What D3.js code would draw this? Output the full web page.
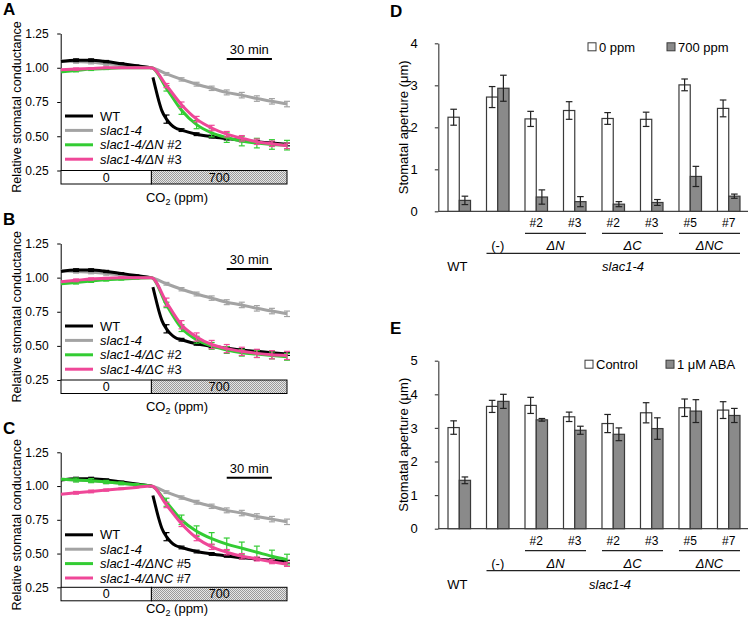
<!DOCTYPE html>
<html><head><meta charset="utf-8">
<script src="https://cdn.jsdelivr.net/npm/d3@7"></script>
<style>
body{margin:0;background:#fff}
text{font-family:"Liberation Sans",Arial,sans-serif;fill:#000}
</style>
</head><body>
<svg id="chart" width="750" height="622"></svg>
<script>
// ---------------- DATA ----------------
// Panels A-C: relative stomatal conductance, time in minutes relative to CO2 switch
const timeMin = [-60,-50,-40,-30,-20,-10,0,10,20,30,40,50,60,70,80,90];
const slac14 = [1.05,1.045,1.04,1.03,1.02,1.01,1.00,0.955,0.915,0.88,0.85,0.82,0.80,0.775,0.755,0.735];
const slac14Err = [0,0.012,0.012,0.012,0.01,0.008,0,0.01,0.012,0.014,0.016,0.018,0.02,0.02,0.02,0.02];
const wtPreT = [-60,-50,-40,-30,-20,-10,0];
const wtPre = [1.045,1.055,1.055,1.045,1.03,1.015,1.00];
const wtPreErr = [0,0.01,0.01,0.008,0.006,0.004,0];
const wtPostT = [1,3,5,7,10,13,16,20,30,40,50,60,70,80,90];
const wtPost = [0.93,0.84,0.755,0.685,0.625,0.585,0.56,0.545,0.515,0.497,0.483,0.47,0.46,0.45,0.44];
const wtPostErr = [0,0,0,0,0.03,0,0,0.01,0.01,0.01,0.01,0.01,0.01,0.01,0.01];
const dN2 = [0.97,0.98,0.99,0.995,1.0,1.0,1.0,0.85,0.69,0.585,0.525,0.49,0.465,0.45,0.44,0.435];
const dN2Err = [0,0.01,0.01,0.008,0.005,0.003,0,0.02,0.03,0.03,0.03,0.035,0.035,0.035,0.035,0.035];
const dN3 = [0.985,0.99,0.995,1.0,1.0,1.0,1.0,0.87,0.73,0.625,0.56,0.515,0.485,0.46,0.445,0.43];
const dN3Err = [0,0.008,0.006,0.005,0.004,0.003,0,0.015,0.02,0.02,0.02,0.02,0.02,0.02,0.02,0.02];
const dC2 = [0.955,0.965,0.975,0.985,0.99,0.995,1.0,0.80,0.63,0.545,0.50,0.47,0.45,0.44,0.43,0.42];
const dC2Err = [0,0.012,0.01,0.01,0.008,0.005,0,0.02,0.025,0.025,0.025,0.025,0.025,0.025,0.025,0.025];
const dC3 = [0.97,0.98,0.99,0.995,1.0,1.0,1.0,0.82,0.655,0.565,0.51,0.48,0.46,0.445,0.435,0.43];
const dC3Err = [0,0.01,0.008,0.006,0.005,0.003,0,0.03,0.03,0.03,0.03,0.03,0.03,0.03,0.03,0.03];
const dNC5 = [1.05,1.045,1.04,1.03,1.02,1.01,1.0,0.88,0.75,0.665,0.61,0.57,0.54,0.51,0.48,0.455];
const dNC5Err = [0,0.015,0.015,0.012,0.01,0.008,0,0.03,0.035,0.04,0.045,0.045,0.045,0.045,0.045,0.04];
const dNC7 = [0.94,0.95,0.96,0.97,0.98,0.99,1.0,0.86,0.72,0.615,0.55,0.51,0.48,0.46,0.44,0.42];
const dNC7Err = [0,0.01,0.01,0.008,0.006,0.004,0,0.02,0.02,0.02,0.02,0.02,0.02,0.015,0.015,0.015];
const condTicks = [0.25,0.50,0.75,1.00,1.25];
const co2Phases = [{label:"0", from:-60, to:0},{label:"700", from:0, to:90}];
const scaleBarMin = [50,80];

// Panels D-E: stomatal aperture (µm)
const genotypes = ["WT","(-)","ΔN #2","ΔN #3","ΔC #2","ΔC #3","ΔNC #5","ΔNC #7"];
const lineNums = ["","","#2","#3","#2","#3","#5","#7"];
const ppm0 = [2.24,2.72,2.20,2.40,2.21,2.19,3.01,2.45];
const ppm0Err = [0.19,0.25,0.18,0.21,0.14,0.17,0.14,0.20];
const ppm700 = [0.26,2.93,0.34,0.23,0.17,0.21,0.83,0.36];
const ppm700Err = [0.10,0.31,0.17,0.12,0.06,0.07,0.24,0.05];
const ctrl = [3.01,3.64,3.67,3.33,3.13,3.45,3.60,3.53];
const ctrlErr = [0.20,0.18,0.24,0.14,0.27,0.30,0.26,0.25];
const aba = [1.44,3.79,3.24,2.93,2.81,2.98,3.50,3.37];
const abaErr = [0.10,0.21,0.04,0.12,0.19,0.32,0.34,0.21];
const dTicks = [0,1,2,3,4];
const eTicks = [0,1,2,3,4,5];

// ---------------- STYLE ----------------
const C_BLACK = "#000", C_GRAY = "#a3a3a3", C_GREEN = "#33cc33", C_PINK = "#ef4798";
const BAR_GRAY = "#8a8a8a", BAR_STROKE = "#3a3a3a";

const svg = d3.select("#chart");
const defs = svg.append("defs");
const pat = defs.append("pattern").attr("id","stip").attr("width",2).attr("height",2).attr("patternUnits","userSpaceOnUse");
pat.append("rect").attr("width",2).attr("height",2).attr("fill","#e6e6e6");
pat.append("rect").attr("width",1).attr("height",1).attr("fill","#9a9a9a");
pat.append("rect").attr("x",1).attr("y",1).attr("width",1).attr("height",1).attr("fill","#9a9a9a");

// ---------------- TIME PANELS ----------------
const x = d3.scaleLinear().domain([-60,90]).range([61,287]);
const panelTop = [33.5, 243.5, 452.3];
const panelBot = [170.5, 380, 587.3];
const co2LabelDy = [31.5, 30.5, 26];

function drawSeries(g, y, t, v, e, color) {
  const eb = g.append("g");
  t.forEach((tt,i)=>{
    if (!e[i]) return;
    const xx = x(tt);
    eb.append("line").attr("x1",xx).attr("x2",xx).attr("y1",y(v[i]-e[i])).attr("y2",y(v[i]+e[i])).attr("stroke",color).attr("stroke-width",1.2);
    [v[i]-e[i], v[i]+e[i]].forEach(val=>{
      eb.append("line").attr("x1",xx-3).attr("x2",xx+3).attr("y1",y(val)).attr("y2",y(val)).attr("stroke",color).attr("stroke-width",1.2);
    });
  });
  const ln = d3.line().x((d,i)=>x(t[i])).y(d=>y(d)).curve(d3.curveMonotoneX);
  g.append("path").datum(v).attr("d",ln).attr("fill","none").attr("stroke",color).attr("stroke-width",3).attr("stroke-linejoin","round");
}

function timePanel(idx, letter, s1, s1e, s2, s2e, lab1, lab2) {
  const top = panelTop[idx], bot = panelBot[idx];
  const y = d3.scaleLinear().domain([0.25,1.25]).range([bot, top]);
  const g = svg.append("g");

  g.append("text").attr("x",3).attr("y",top-18.5).attr("font-size",17).attr("font-weight","bold").text(letter);

  const ax = g.append("g").attr("transform","translate(60.7,0)")
    .call(d3.axisLeft(y).tickValues(condTicks).tickFormat(d3.format(".2f")).tickSizeInner(3.5).tickSizeOuter(0).tickPadding(8.5));
  ax.selectAll("text").attr("font-size",12).attr("font-family","Liberation Sans, Arial, sans-serif").attr("fill","#000");
  ax.selectAll("line,path").attr("stroke","#000");

  g.append("text").attr("transform",`translate(21,${(top+bot)/2+5}) rotate(-90)`).attr("text-anchor","middle").attr("font-size",12.6).text("Relative stomatal conductance");

  // CO2 bar
  co2Phases.forEach((p,i)=>{
    g.append("rect").attr("x",x(p.from)).attr("y",bot).attr("width",x(p.to)-x(p.from)).attr("height",13.5)
      .attr("fill", i===0 ? "#fff" : "url(#stip)").attr("stroke","#000").attr("stroke-width",1);
    g.append("text").attr("x",(x(p.from)+x(p.to))/2).attr("y",bot+11).attr("text-anchor","middle").attr("font-size",12.5).text(p.label);
  });
  const co2 = g.append("text").attr("x",177).attr("y",bot+co2LabelDy[idx]).attr("text-anchor","middle").attr("font-size",13);
  co2.append("tspan").text("CO");
  co2.append("tspan").attr("font-size",9).attr("dy",3).text("2");
  co2.append("tspan").attr("dy",-3).text(" (ppm)");

  // scale bar
  g.append("line").attr("x1",x(scaleBarMin[0])).attr("x2",x(scaleBarMin[1])).attr("y1",top+25.5).attr("y2",top+25.5).attr("stroke","#000").attr("stroke-width",2);
  g.append("text").attr("x",(x(scaleBarMin[0])+x(scaleBarMin[1]))/2).attr("y",top+20.5).attr("text-anchor","middle").attr("font-size",13).text("30 min");

  // series
  drawSeries(g, y, timeMin, slac14, slac14Err, C_GRAY);
  drawSeries(g, y, wtPreT, wtPre, wtPreErr, C_BLACK);
  drawSeries(g, y, wtPostT, wtPost, wtPostErr, C_BLACK);
  drawSeries(g, y, timeMin, s1, s1e, C_GREEN);
  drawSeries(g, y, timeMin, s2, s2e, C_PINK);

  // legend
  const items = [
    {c:C_BLACK, parts:[["WT",false]]},
    {c:C_GRAY, parts:[["slac1-4",true]]},
    {c:C_GREEN, parts:[[lab1[0],true],[lab1[1],false]]},
    {c:C_PINK, parts:[[lab2[0],true],[lab2[1],false]]}
  ];
  items.forEach((it,k)=>{
    const yy = top + 82.5 + 14.4*k;
    g.append("line").attr("x1",65).attr("x2",93).attr("y1",yy).attr("y2",yy).attr("stroke",it.c).attr("stroke-width",3);
    const t = g.append("text").attr("x",100).attr("y",yy+4.5).attr("font-size",13);
    it.parts.forEach(p=>t.append("tspan").attr("font-style",p[1]?"italic":"normal").text(p[0]));
  });
}

timePanel(0,"A",dN2,dN2Err,dN3,dN3Err,["slac1-4/ΔN"," #2"],["slac1-4/ΔN"," #3"]);
timePanel(1,"B",dC2,dC2Err,dC3,dC3Err,["slac1-4/ΔC"," #2"],["slac1-4/ΔC"," #3"]);
timePanel(2,"C",dNC5,dNC5Err,dNC7,dNC7Err,["slac1-4/ΔNC"," #5"],["slac1-4/ΔNC"," #7"]);

// ---------------- BAR PANELS ----------------
const xb = d3.scaleBand().domain(genotypes).range([438,750]).paddingInner(0.415).paddingOuter(0.26);
const xs = d3.scaleBand().domain(["a","b"]).range([0, xb.bandwidth()]);

function barPanel(letter, y0, yTop, ticks, vA, eA, vB, eB, legA, legB, legX, slacX) {
  const y = d3.scaleLinear().domain([0, ticks[ticks.length-1]]).range([y0, yTop]);
  const g = svg.append("g");
  g.append("text").attr("x",390).attr("y",yTop-26.5).attr("font-size",17).attr("font-weight","bold").text(letter);

  const ax = g.append("g").attr("transform","translate(438.3,0)")
    .call(d3.axisLeft(y).tickValues(ticks).tickFormat(d3.format("d")).tickSizeInner(3.5).tickSizeOuter(0).tickPadding(17));
  ax.selectAll("text").attr("font-size",13).attr("font-family","Liberation Sans, Arial, sans-serif").attr("fill","#000");
  ax.selectAll("line,path").attr("stroke","#444").attr("stroke-width",1.2);

  g.append("line").attr("x1",438.3).attr("x2",748).attr("y1",y0).attr("y2",y0).attr("stroke","#444").attr("stroke-width",1.2);

  g.append("text").attr("transform",`translate(408,${(y0+yTop)/2}) rotate(-90)`).attr("text-anchor","middle").attr("font-size",13).text("Stomatal aperture (μm)");

  const sets = [{k:"a",v:vA,e:eA,f:"#fff"},{k:"b",v:vB,e:eB,f:BAR_GRAY}];
  genotypes.forEach((gname,i)=>{
    sets.forEach(s=>{
      const bx = xb(gname)+xs(s.k), bw = xs.bandwidth();
      g.append("rect").attr("x",bx).attr("y",y(s.v[i])).attr("width",bw).attr("height",y0-y(s.v[i]))
        .attr("fill",s.f).attr("stroke",BAR_STROKE).attr("stroke-width",1.2);
      const cx = bx + bw/2, lo = y(s.v[i]-s.e[i]), hi = y(s.v[i]+s.e[i]);
      g.append("line").attr("x1",cx).attr("x2",cx).attr("y1",lo).attr("y2",hi).attr("stroke","#222").attr("stroke-width",1.2);
      [lo,hi].forEach(yy=>g.append("line").attr("x1",cx-3.3).attr("x2",cx+3.3).attr("y1",yy).attr("y2",yy).attr("stroke","#222").attr("stroke-width",1.2));
    });
  });

  // category labels
  genotypes.forEach((gname,i)=>{
    if (lineNums[i]) g.append("text").attr("x",xb(gname)+xb.bandwidth()/2).attr("y",y0+16).attr("text-anchor","middle").attr("font-size",12).text(lineNums[i]);
  });
  [["ΔN #2","ΔN #3","ΔN"],["ΔC #2","ΔC #3","ΔC"],["ΔNC #5","ΔNC #7","ΔNC"]].forEach(gr=>{
    const x1 = xb(gr[0]), x2 = xb(gr[1])+xb.bandwidth();
    g.append("line").attr("x1",x1).attr("x2",x2).attr("y1",y0+22).attr("y2",y0+22).attr("stroke","#222").attr("stroke-width",1.2);
    g.append("text").attr("x",(x1+x2)/2).attr("y",y0+39).attr("text-anchor","middle").attr("font-size",13).attr("font-style","italic").text(gr[2]);
  });
  g.append("text").attr("x",xb("(-)")+xb.bandwidth()/2).attr("y",y0+39).attr("text-anchor","middle").attr("font-size",13).text("(-)");
  const lx1 = xb("(-)"), lx2 = xb("ΔNC #7")+xb.bandwidth();
  g.append("line").attr("x1",lx1).attr("x2",lx2).attr("y1",y0+42).attr("y2",y0+42).attr("stroke","#222").attr("stroke-width",1.2);
  g.append("text").attr("x",xb("WT")+xb.bandwidth()/2-2).attr("y",y0+60).attr("text-anchor","middle").attr("font-size",13).text("WT");
  g.append("text").attr("x",slacX).attr("y",y0+60).attr("text-anchor","middle").attr("font-size",13).attr("font-style","italic").text("slac1-4");

  // legend
  [[legX[0],"#fff",legA],[legX[1],BAR_GRAY,legB]].forEach(l=>{
    g.append("rect").attr("x",l[0]).attr("y",yTop-0.5).attr("width",8).attr("height",8).attr("fill",l[1]).attr("stroke",BAR_STROKE).attr("stroke-width",1);
    g.append("text").attr("x",l[0]+11).attr("y",yTop+8.5).attr("font-size",13).text(l[2]);
  });
}

barPanel("D", 211.3, 43.3, dTicks, ppm0, ppm0Err, ppm700, ppm700Err, "0 ppm", "700 ppm", [588,667], 623);
barPanel("E", 528.7, 360.7, eTicks, ctrl, ctrlErr, aba, abaErr, "Control", "1 μM ABA", [585,666], 610);
</script>
</body></html>
